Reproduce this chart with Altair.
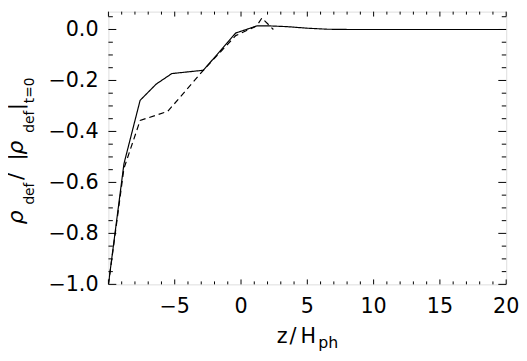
import altair as alt
import pandas as pd

# ---- data ----
solid_z = [-10.0, -8.83, -7.61, -6.39, -5.22, -2.84, -0.40, 1.19, 2.19, 3.5, 5.0, 6.5, 8.0, 20.0]
solid_rho = [-1.0, -0.527, -0.278, -0.214, -0.173, -0.160, -0.014, 0.014, 0.014, 0.011, 0.005, 0.001, 0.0, 0.0]
dash_z = [-10.0, -8.83, -7.61, -5.52, -2.84, -0.40, 1.19, 1.57, 2.44]
dash_rho = [-1.0, -0.545, -0.357, -0.321, -0.160, -0.024, 0.014, 0.045, 0.0]

x_label_values = [-5, 0, 5, 10, 15, 20]
x_label_text = ["−5", "0", "5", "10", "15", "20"]
y_label_values = [-1.0, -0.8, -0.6, -0.4, -0.2, 0.0]
y_label_text = ["−1.0", "−0.8", "−0.6", "−0.4", "−0.2", "0.0"]
x_major = [-10, -5, 0, 5, 10, 15, 20]
x_minor = [v for v in range(-10, 21) if v % 5 != 0]
y_major = [-1.0, -0.8, -0.6, -0.4, -0.2, 0.0]
y_minor = [round(-1.0 + 0.05 * i, 2) for i in range(22) if i % 4 != 0]

W, H = 404, 277
FONT = "DejaVu Sans"

xs = alt.Scale(domain=[-10, 20], nice=False, zero=False)
ys = alt.Scale(domain=[-1.0, 0.07], nice=False, zero=False)

lines_df = pd.concat([
    pd.DataFrame({"z": solid_z, "rho": solid_rho, "series": "solid", "o": range(len(solid_z))}),
    pd.DataFrame({"z": dash_z, "rho": dash_rho, "series": "dashed", "o": range(len(dash_z))}),
])

lines = alt.Chart(lines_df).mark_line(color="black", strokeWidth=1.2, clip=True).encode(
    x=alt.X("z:Q", scale=xs, axis=None),
    y=alt.Y("rho:Q", scale=ys, axis=None),
    strokeDash=alt.StrokeDash("series:N", scale=alt.Scale(domain=["solid", "dashed"], range=[[1, 0], [6, 4]]),
                              legend=None),
    order="o:Q",
)

def xticks(vals, length):
    d = pd.DataFrame({"v": vals})
    b = alt.Chart(d).mark_rule(color="black", strokeWidth=1)
    bottom = b.encode(x=alt.X("v:Q", scale=xs, axis=None), y=alt.value(H), y2=alt.value(H - length))
    top = b.encode(x=alt.X("v:Q", scale=xs, axis=None), y=alt.value(0), y2=alt.value(length))
    return [bottom, top]

def yticks(vals, length):
    d = pd.DataFrame({"v": vals})
    b = alt.Chart(d).mark_rule(color="black", strokeWidth=1)
    left = b.encode(y=alt.Y("v:Q", scale=ys, axis=None), x=alt.value(0), x2=alt.value(length))
    right = b.encode(y=alt.Y("v:Q", scale=ys, axis=None), x=alt.value(W), x2=alt.value(W - length))
    return [left, right]

ticks = xticks(x_major, 5) + xticks(x_minor, 3) + yticks(y_major, 8) + yticks(y_minor, 4.5)

xlab = alt.Chart(pd.DataFrame({"v": x_label_values, "t": x_label_text})).mark_text(
    fontSize=21, font=FONT, color="black", align="center", baseline="alphabetic"
).encode(x=alt.X("v:Q", scale=xs, axis=None), y=alt.value(H + 29), text="t:N")

ylab = alt.Chart(pd.DataFrame({"v": y_label_values, "t": y_label_text})).mark_text(
    fontSize=21, font=FONT, color="black", align="right", baseline="middle", dy=1
).encode(y=alt.Y("v:Q", scale=ys, axis=None), x=alt.value(-10), text="t:N")

one = alt.Data(values=[{"k": 0}])

def piece(txt, x, y, size, angle=270, italic=False):
    kw = dict(text=txt, align="left", baseline="alphabetic", fontSize=size, font=FONT, color="black")
    if angle:
        kw["angle"] = angle
    if italic:
        kw["fontStyle"] = "italic"
    return alt.Chart(one).mark_text(**kw).encode(x=alt.value(x), y=alt.value(y))

# y title: rho_def / |rho_def|_t=0 (rotated)
MB, SB = -87, -76
ytitle = [
    piece("ρ", MB, 216, 22, italic=True),
    piece("def", SB, 196, 14),
    piece("/", MB, 171, 22),
    piece("|", MB, 151, 20),
    piece("ρ", MB, 145, 22, italic=True),
    piece("def", SB, 123, 14),
    piece("|", MB, 100, 20),
    piece("t=0", SB, 93, 14),
]
# x title: z/H_ph
xtitle = [
    piece("z", 171, 337, 21, angle=0),
    piece("/", 184, 337, 21, angle=0),
    piece("H", 195, 337, 21, angle=0),
    piece("ph", 213, 342, 16, angle=0),
]

chart = alt.layer(lines, *ticks, xlab, ylab, *ytitle, *xtitle).properties(
    width=W, height=H,
    autosize=alt.AutoSizeParams(type="none"),
    padding={"left": 102, "top": 1, "right": 13, "bottom": 66},
).configure_view(stroke="black", strokeWidth=1).configure(background="white")

chart.save("out.html", embed_options={"renderer": "svg", "actions": False})
